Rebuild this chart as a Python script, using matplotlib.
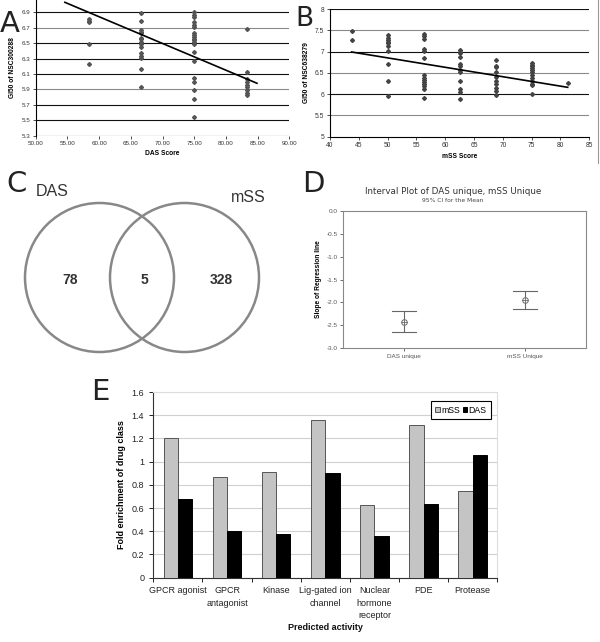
import numpy as np
import matplotlib
matplotlib.use("Agg")
import matplotlib.pyplot as plt
from matplotlib.patches import Circle

plt.rcParams['font.family'] = ['Liberation Sans', 'DejaVu Sans']

# panel A: GI50 of NSC300288 vs DAS score
a_x = [58.33] * 5 + [66.67] * 15 + [75.0] * 20 + [83.33] * 9
a_y = [6.82, 6.79, 6.77, 6.49, 6.23,
       6.89, 6.79, 6.67, 6.64, 6.63, 6.57, 6.55, 6.51, 6.49, 6.45, 6.37, 6.34, 6.31, 6.16, 5.93,
       6.90, 6.87, 6.84, 6.77, 6.74, 6.71, 6.63, 6.61, 6.58, 6.56, 6.54, 6.51, 6.49, 6.38, 6.27,
       6.05, 5.99, 5.89, 5.77, 5.54,
       6.68, 6.13, 6.04, 6.00, 5.96, 5.93, 5.89, 5.86, 5.83]
a_fit_x = [54.6, 84.9]
a_fit_y = [7.03, 5.98]

# panel B: GI50 of NSC638279 vs mSS score
b_x = ([43.75] * 2 + [50.0] * 10 + [56.25] * 14 + [62.5] * 12 + [68.75] * 10
       + [75.0] * 12 + [81.25])
b_y = [7.49, 7.27,
       7.38, 7.33, 7.27, 7.23, 7.20, 7.12, 7.02, 6.70, 6.31, 5.96,
       7.41, 7.37, 7.30, 7.06, 7.02, 6.84, 6.44, 6.39, 6.34, 6.29, 6.23, 6.18, 6.12, 5.91,
       7.04, 7.00, 6.96, 6.88, 6.71, 6.67, 6.56, 6.51, 6.31, 6.12, 6.06, 5.88,
       6.81, 6.67, 6.63, 6.51, 6.41, 6.31, 6.23, 6.14, 6.08, 5.97,
       6.73, 6.69, 6.65, 6.61, 6.57, 6.51, 6.45, 6.38, 6.30, 6.24, 6.22, 6.00,
       6.26]
b_fit_x = [43.75, 81.25]
b_fit_y = [6.99, 6.16]

# panel C: venn counts (DAS only, both, mSS only)
venn_counts = [78, 5, 328]

# panel D: interval plot
d_groups = ['DAS unique', 'mSS Unique']
d_mean = [-2.42, -1.95]
d_low = [-2.65, -2.15]
d_high = [-2.18, -1.75]

# panel E: fold enrichment
e_cats = ['GPCR agonist', 'GPCR\nantagonist', 'Kinase', 'Lig-gated ion\nchannel',
          'Nuclear\nhormone\nreceptor', 'PDE', 'Protease']
e_mss = [1.20, 0.866, 0.915, 1.36, 0.63, 1.318, 0.751]
e_das = [0.675, 0.405, 0.377, 0.906, 0.362, 0.633, 1.053]

W, H = 600, 642
fig = plt.figure(figsize=(6, 6.42), dpi=100)


def box(l, t, r, b):
    return [l / W, 1 - b / H, (r - l) / W, (b - t) / H]


# overlay in pixel coords for letters and venn
bg = fig.add_axes([0, 0, 1, 1], zorder=-1)
bg.set_xlim(0, W)
bg.set_ylim(H, 0)
bg.axis('off')

# ---- A ----
ax = fig.add_axes(box(35.7, 0, 289.3, 135.7))
ax.set_xlim(50, 90)
ax.set_ylim(5.3, 7.06)
yt = np.round(np.arange(5.3, 6.95, 0.2), 1)
for v in yt:
    ax.axhline(v, color='#8a8a8a' if v in (6.7, 5.9) else '#111', lw=0.8, zorder=1)
ax.plot(a_x, a_y, 'D', color='#555', ms=2.0, zorder=3)
ax.plot(a_fit_x, a_fit_y, color='black', lw=1.2, zorder=4)
ax.set_yticks(yt)
ax.set_yticklabels([f'{v:.1f}' for v in yt])
ax.set_xticks(np.arange(50, 91, 5))
ax.set_xticklabels([f'{v:.2f}' for v in np.arange(50, 91, 5)])
for s in ['top', 'right', 'bottom']:
    ax.spines[s].set_visible(False)
ax.spines['left'].set_linewidth(0.8)
ax.tick_params(labelsize=4.5, length=2, width=0.6, colors='#333', pad=2)
ax.set_xlabel('DAS Score', fontsize=4.8, fontweight='bold', labelpad=3)
ax.set_ylabel('GI50 of NSC300288', fontsize=4.8, fontweight='bold', labelpad=4)

# ---- B ----
ax = fig.add_axes(box(330, 9, 589.3, 136.7))
ax.set_xlim(40, 85)
ax.set_ylim(5, 8)
yt = np.arange(5.5, 8.01, 0.5)
for v in yt:
    ax.axhline(v, color='#8a8a8a' if v in (7.5, 6.5, 5.5) else '#111', lw=0.8, zorder=1)
ax.plot(b_x, b_y, 'D', color='#444', ms=2.0, zorder=3)
ax.plot(b_fit_x, b_fit_y, color='black', lw=1.2, zorder=4)
ax.set_yticks(np.arange(5, 8.01, 0.5))
ax.set_yticklabels(['5', '5.5', '6', '6.5', '7', '7.5', '8'])
ax.set_xticks(np.arange(40, 86, 5))
for s in ['top', 'right']:
    ax.spines[s].set_visible(False)
ax.spines['left'].set_linewidth(0.8)
ax.spines['bottom'].set_linewidth(0.8)
ax.tick_params(labelsize=4.8, length=2, width=0.6, colors='#333', pad=2)
ax.set_xlabel('mSS Score', fontsize=4.8, fontweight='bold', labelpad=3)
ax.set_ylabel('GI50 of NSC638279', fontsize=4.8, fontweight='bold', labelpad=4)
bg.plot([598, 598], [0, 163], color='#999', lw=0.8)

# ---- C ----
for cx in (99.5, 184.5):
    bg.add_patch(Circle((cx, 277.5), 74.5, fill=False, ec='#888', lw=1.8))
bg.text(52, 192, 'DAS', fontsize=11.5, color='#333', ha='center', va='center')
bg.text(248, 197, 'mSS', fontsize=11.5, color='#333', ha='center', va='center')
for x, n in zip([70, 144, 221], venn_counts):
    bg.text(x, 280, str(n), fontsize=10, fontweight='bold', color='#333',
            ha='center', va='center')

# ---- D ----
ax = fig.add_axes(box(343, 211, 586, 348))
ax.set_xlim(0.5, 2.5)
ax.set_ylim(-3.0, 0.0)
pos = np.arange(1, len(d_groups) + 1)
for p, m, lo, hi in zip(pos, d_mean, d_low, d_high):
    ax.plot([p, p], [lo, hi], color='#666', lw=0.8)
    ax.plot([p - 0.1, p + 0.1], [lo, lo], color='#666', lw=0.8)
    ax.plot([p - 0.1, p + 0.1], [hi, hi], color='#666', lw=0.8)
    ax.plot(p, m, marker='o', mfc='white', mec='#666', ms=4, mew=0.7)
    ax.plot(p, m, marker='+', color='#666', ms=4, mew=0.6)
ax.set_xticks(pos)
ax.set_xticklabels(d_groups)
ax.set_yticks(np.arange(-3.0, 0.01, 0.5))
ax.set_yticklabels([f'{v:.1f}' for v in np.arange(-3.0, 0.01, 0.5)])
for s in ax.spines.values():
    s.set_color('#888')
    s.set_linewidth(0.8)
ax.tick_params(labelsize=4.6, length=2, width=0.6, colors='#555', pad=2)
ax.set_ylabel('Slope of Regression line', fontsize=4.8, fontweight='bold', labelpad=3)
bg.text(453, 191, 'Interval Plot of DAS unique, mSS Unique', fontsize=6.3,
        color='#333', ha='center', va='center', family='DejaVu Sans')
bg.text(453, 201, '95% CI for the Mean', fontsize=4.3, color='#444',
        ha='center', va='center', family='DejaVu Sans')

# ---- E ----
ax = fig.add_axes(box(153.3, 392, 497.3, 577.7))
x = np.arange(len(e_cats))
w = 0.29
ax.bar(x - w / 2, e_mss, w, color='#c4c4c4', edgecolor='#555', lw=0.7, label='mSS', zorder=3)
ax.bar(x + w / 2, e_das, w, color='black', edgecolor='black', lw=0.7, label='DAS', zorder=3)
ax.set_xlim(-0.5, len(e_cats) - 0.5)
ax.set_ylim(0, 1.6)
ax.set_yticks(np.arange(0, 1.61, 0.2))
ax.set_yticklabels(['0', '0.2', '0.4', '0.6', '0.8', '1', '1.2', '1.4', '1.6'])
ax.grid(axis='y', color='#d0d0d0', lw=0.8, zorder=0)
ax.set_xticks(np.arange(-0.5, len(e_cats), 1))
ax.set_xticklabels([])
ax.set_xticks(x, minor=True)
ax.set_xticklabels(e_cats, minor=True, linespacing=1.5)
ax.tick_params(axis='x', which='minor', length=0, pad=6)
ax.tick_params(axis='x', which='major', length=3, width=0.7)
ax.tick_params(axis='y', length=3, width=0.7)
ax.tick_params(which='both', labelsize=6.5, colors='#222')
for s in ['top', 'right']:
    ax.spines[s].set_color('#dddddd')
for s in ['left', 'bottom']:
    ax.spines[s].set_color('#333')
    ax.spines[s].set_linewidth(0.8)
ax.set_ylabel('Fold enrichment of drug class', fontsize=6.5, fontweight='bold', labelpad=4)
leg = ax.legend(loc='upper right', bbox_to_anchor=(0.982, 0.95), ncol=2, fontsize=6.3,
                handlelength=0.55, handleheight=0.55, handletextpad=0.15, columnspacing=0.3,
                borderpad=0.5, fancybox=False, framealpha=1, borderaxespad=0)
leg.get_frame().set_edgecolor('black')
leg.get_frame().set_linewidth(0.8)
bg.text(325, 627, 'Predicted activity', fontsize=6.5, fontweight='bold', color='#111',
        ha='center', va='center')

# panel letters
for ch, (lx, ly) in zip('ABCDE', [(10, 24), (304, 19), (17, 184), (313, 184), (100, 392)]):
    bg.text(lx, ly, ch, fontsize=21 if ch != 'B' else 19, color='#222',
            ha='center', va='center', family='DejaVu Sans')

fig.savefig('out.png', dpi=100)
